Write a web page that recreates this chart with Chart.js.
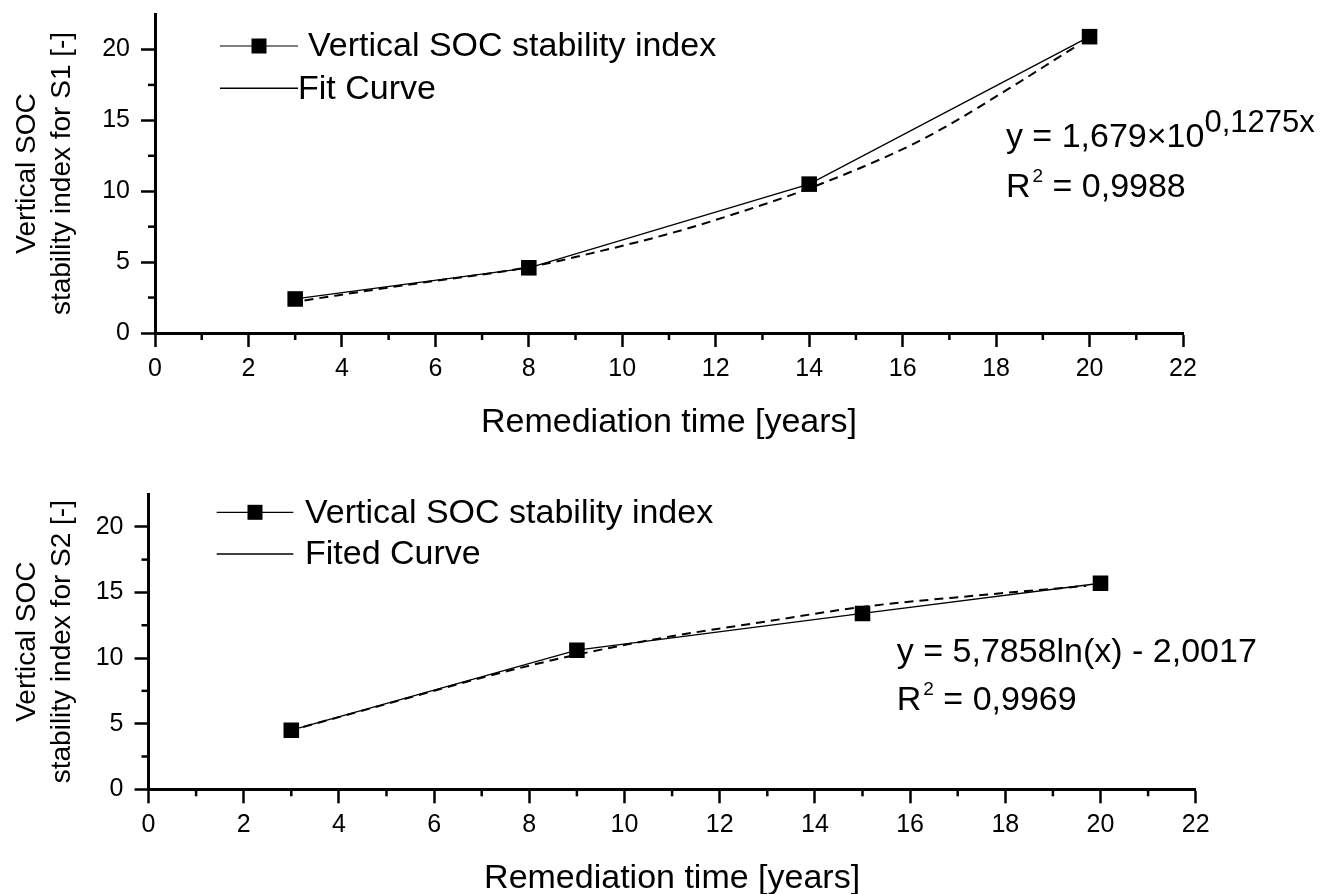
<!DOCTYPE html>
<html><head><meta charset="utf-8">
<script src="https://cdn.jsdelivr.net/npm/chart.js@4.4.0/dist/chart.umd.min.js"></script>
<style>
html,body{margin:0;padding:0;background:#fff;overflow:hidden;width:1325px;height:894px;}
.wrap{position:absolute;left:0;width:1325px;height:447px;}
canvas{display:block;}
</style></head><body>
<div class="wrap" style="top:0"><canvas id="c1" width="1325" height="447"></canvas></div>
<div class="wrap" style="top:456px"><canvas id="c2" width="1325" height="447"></canvas></div>
<script>
// ---- data ----
const s1Years = [3, 8, 14, 20];
const s1Index = [2.4, 4.6, 10.5, 20.9];
const s1FitYears = [3.2, 5.3, 8, 9.5, 11, 12.5, 14, 16.15, 17, 18.5, 19.7];
const s1FitIndex = [2.3, 3.35, 4.65, 5.75, 7.0, 8.5, 10.2, 13.2, 14.7, 17.7, 20.2];

const s2Years = [3, 9, 15, 20];
const s2Index = [4.5, 10.6, 13.4, 15.7];
const s2FitYears = [3.25, 5.3, 7, 8.8, 10.9, 13, 15, 17.5, 19.7];
const s2FitIndex = [4.75, 6.8, 8.5, 10.1, 11.6, 12.8, 13.9, 14.8, 15.5];

const xMinorTicks = [1, 3, 5, 7, 9, 11, 13, 15, 17, 19, 21];
const yMinorTicks = [2.5, 7.5, 12.5, 17.5];

const legendLabels1 = ['Vertical SOC stability index', 'Fit Curve'];
const legendLabels2 = ['Vertical SOC stability index', 'Fited Curve'];
const yTitle1 = ['Vertical SOC', 'stability index for S1 [-]'];
const yTitle2 = ['Vertical SOC', 'stability index for S2 [-]'];
const xTitle = 'Remediation time [years]';

const F = "'Liberation Sans', Arial, sans-serif";

// ---- plugins ----
const minorTicks = {
  id: 'minorTicks',
  afterDraw(chart, args, opts) {
    const ctx = chart.ctx, xs = chart.scales.x, ys = chart.scales.y;
    ctx.save();
    ctx.strokeStyle = '#000';
    ctx.lineWidth = 2.5;
    for (const v of opts.x) {
      const px = xs.getPixelForValue(v);
      ctx.beginPath(); ctx.moveTo(px, xs.top); ctx.lineTo(px, xs.top + 7); ctx.stroke();
    }
    for (const v of opts.y) {
      const py = ys.getPixelForValue(v);
      ctx.beginPath(); ctx.moveTo(ys.right, py); ctx.lineTo(ys.right - 7, py); ctx.stroke();
    }
    ctx.restore();
  }
};

const customLegend = {
  id: 'customLegend',
  afterDraw(chart, args, o) {
    const ctx = chart.ctx;
    ctx.save();
    ctx.fillStyle = '#000'; ctx.strokeStyle = '#000';
    ctx.font = '34px ' + F;
    ctx.textBaseline = 'middle'; ctx.textAlign = 'left';
    ctx.lineWidth = 1.2;
    ctx.beginPath(); ctx.moveTo(o.x0, o.y1); ctx.lineTo(o.x1, o.y1); ctx.stroke();
    const cx = (o.x0 + o.x1) / 2;
    ctx.fillRect(cx - 7.5, o.y1 - 7.5, 15, 15);
    ctx.fillText(o.labels[0], o.t1, o.y1 + 1);
    ctx.lineWidth = 1.6;
    ctx.beginPath(); ctx.moveTo(o.x0, o.y2); ctx.lineTo(o.x1, o.y2); ctx.stroke();
    ctx.fillText(o.labels[1], o.t2, o.y2 + 1);
    ctx.restore();
  }
};

const equation = {
  id: 'equation',
  afterDraw(chart, args, o) {
    const ctx = chart.ctx, xs = chart.scales.x, ys = chart.scales.y;
    ctx.save();
    ctx.fillStyle = '#000'; ctx.textBaseline = 'alphabetic'; ctx.textAlign = 'left';
    for (const line of o.lines) {
      let x = xs.getPixelForValue(o.x);
      const base = ys.getPixelForValue(line.y);
      for (const p of line.parts) {
        ctx.font = p.size + 'px ' + F;
        x += (p.gap || 0);
        ctx.fillText(p.text, x, base + (p.dy || 0));
        x += ctx.measureText(p.text).width;
      }
    }
    ctx.restore();
  }
};

function makeChart(id, cfg) {
  return new Chart(document.getElementById(id), {
    type: 'scatter',
    data: {
      datasets: [
        {
          label: cfg.legend.labels[0],
          data: cfg.years.map((x, i) => ({x, y: cfg.values[i]})),
          showLine: true, borderColor: '#000', borderWidth: 1.3,
          pointStyle: 'rect', pointRadius: 11, pointBackgroundColor: '#000', pointBorderWidth: 0,
          order: 0
        },
        {
          label: cfg.legend.labels[1],
          data: cfg.fitYears.map((x, i) => ({x, y: cfg.fitValues[i]})),
          showLine: true, borderColor: '#000', borderWidth: 2, borderDash: [9, 6],
          cubicInterpolationMode: 'monotone', pointRadius: 0,
          order: 1
        }
      ]
    },
    options: {
      responsive: false, animation: false, events: [],
      layout: {padding: cfg.padding},
      plugins: {
        legend: {display: false}, tooltip: {enabled: false},
        minorTicks: {x: xMinorTicks, y: yMinorTicks},
        customLegend: cfg.legend,
        equation: cfg.equation
      },
      scales: {
        x: {
          type: 'linear', min: 0, max: 22,
          afterFit(s) { s.height = cfg.xHeight; s.paddingLeft = 0; s.paddingRight = 0; },
          ticks: {stepSize: 2, includeBounds: false, font: {family: F, size: 25}, color: '#000', padding: 7, maxRotation: 0},
          grid: {display: true, drawOnChartArea: false, drawTicks: true, tickLength: 14, tickWidth: 2.5, tickColor: '#000', color: '#000'},
          border: {display: true, color: '#000', width: 3},
          title: {display: true, text: xTitle, font: {family: F, size: 34, lineHeight: 1.2}, color: '#000', padding: {top: 0, bottom: 3.5}}
        },
        y: {
          type: 'linear', min: 0, max: 22.5,
          afterFit(s) { s.width = cfg.yWidth; s.paddingTop = 0; s.paddingBottom = 0; },
          ticks: {stepSize: 5, includeBounds: false, font: {family: F, size: 25}, color: '#000', padding: 11},
          grid: {display: true, drawOnChartArea: false, drawTicks: true, tickLength: 14, tickWidth: 2.5, tickColor: '#000', color: '#000'},
          border: {display: true, color: '#000', width: 3},
          title: {display: true, text: cfg.yTitle, font: {family: F, size: 28, lineHeight: 1.25}, color: '#000', padding: {top: 10, bottom: 0}}
        }
      }
    },
    plugins: [minorTicks, customLegend, equation]
  });
}

makeChart('c1', {
  years: s1Years, values: s1Index, fitYears: s1FitYears, fitValues: s1FitIndex,
  yTitle: yTitle1, yWidth: 155, xHeight: 114,
  padding: {left: 0, top: 14, right: 142, bottom: 0},
  legend: {labels: legendLabels1, x0: 220, x1: 298, y1: 46, y2: 88.3, t1: 308, t2: 298},
  equation: {x: 18.21, lines: [
    {y: 13.14, parts: [{text: 'y = 1,679×10', size: 34}, {text: '0,1275x', size: 31, dy: -15}]},
    {y: 9.61, parts: [{text: 'R', size: 34}, {text: '2', size: 19, dy: -15, gap: 2}, {text: ' = 0,9988', size: 34}]}
  ]}
});

makeChart('c2', {
  years: s2Years, values: s2Index, fitYears: s2FitYears, fitValues: s2FitIndex,
  yTitle: yTitle2, yWidth: 148.5, xHeight: 113.7,
  padding: {left: 0, top: 38, right: 129.3, bottom: 0},
  legend: {labels: legendLabels2, x0: 216.7, x1: 293.3, y1: 56.3, y2: 98, t1: 305, t2: 305},
  equation: {x: 15.72, lines: [
    {y: 9.73, parts: [{text: 'y = 5,7858ln(x) - 2,0017', size: 34}]},
    {y: 6.04, parts: [{text: 'R', size: 34}, {text: '2', size: 19, dy: -15, gap: 2}, {text: ' = 0,9969', size: 34}]}
  ]}
});
</script>
</body></html>
